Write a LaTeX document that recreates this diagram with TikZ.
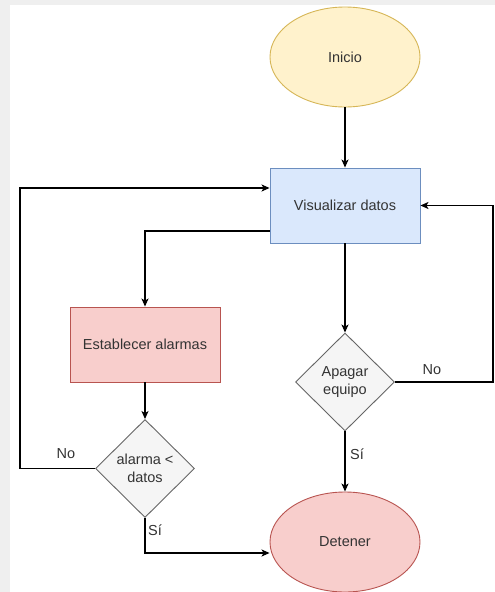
\documentclass[tikz,border=0pt]{standalone}
\usepackage{fontspec}
\setmainfont{Liberation Sans}
\usetikzlibrary{shapes.geometric,arrows.meta}
\definecolor{yfill}{HTML}{FFF2CC}\definecolor{ydraw}{HTML}{D6B656}
\definecolor{bfill}{HTML}{DAE8FC}\definecolor{bdraw}{HTML}{6C8EBF}
\definecolor{rfill}{HTML}{F8CECC}\definecolor{rdraw}{HTML}{B85450}
\definecolor{gfill}{HTML}{F5F5F5}\definecolor{gdraw}{HTML}{666666}
\definecolor{txt}{HTML}{333333}\definecolor{bggray}{HTML}{EFEFEF}
\tikzset{
  base/.style={inner sep=0pt, line width=0.9pt, font=\fontsize{14.5}{18}\selectfont, text=txt, align=center},
  term/.style={base, ellipse, minimum width=150pt, minimum height=100pt},
  proc/.style={base, rectangle, minimum width=150pt, minimum height=75pt},
  deci/.style={base, diamond, fill=gfill, draw=gdraw, minimum width=99pt, minimum height=98pt},
  arr/.style={line width=1.2pt, -{Stealth[length=8pt,width=7pt,inset=2pt]}},
  lnk/.style={line width=1.2pt},
  lbl/.style={inner sep=0pt, font=\fontsize{14.5}{18}\selectfont, text=txt}
}
\begin{document}
\begin{tikzpicture}[x=1pt,y=-1pt]
\useasboundingbox (0,0) rectangle (495,592);
\fill[bggray] (0,0) rectangle (495,592);
\fill[white] (10,5) rectangle (495,592);
\node[term, fill=yfill, draw=ydraw] (inicio) at (345,57) {Inicio};
\node[proc, fill=bfill, draw=bdraw] (vis) at (345,205.5) {Visualizar datos};
\node[proc, fill=rfill, draw=rdraw] (est) at (145,344.5) {Establecer alarmas};
\node[deci] (alarm) at (145,468.5) {alarma <\\datos};
\node[deci] (apagar) at (345,382) {Apagar\\equipo};
\node[term, fill=rfill, draw=rdraw] (det) at (345,542) {Detener};
\coordinate (lb) at (20,468.5);
\coordinate (rb) at (493,382);
\draw[arr] (inicio) -- (vis);
\draw[arr] ([yshift=-25.5pt]vis.west) -| (est.north);
\draw[arr] (est) -- (alarm);
\draw[arr] (vis) -- (apagar);
\draw[arr] (alarm.west) -- (lb) |- ([yshift=17.5pt]vis.west);
\draw[arr] (apagar.east) -- (rb) |- (vis.east);
\draw[arr] (apagar.south) -- (det.north);
\draw[arr] (alarm.south) |- ([yshift=-11pt]det.west);
\node[lbl] (no1) at (66,454) {No};
\node[lbl] (no2) at (432,370) {No};
\node[lbl] (si1) at (357,454) {Sí};
\node[lbl] (si2) at (155,530) {Sí};
\end{tikzpicture}
\end{document}
